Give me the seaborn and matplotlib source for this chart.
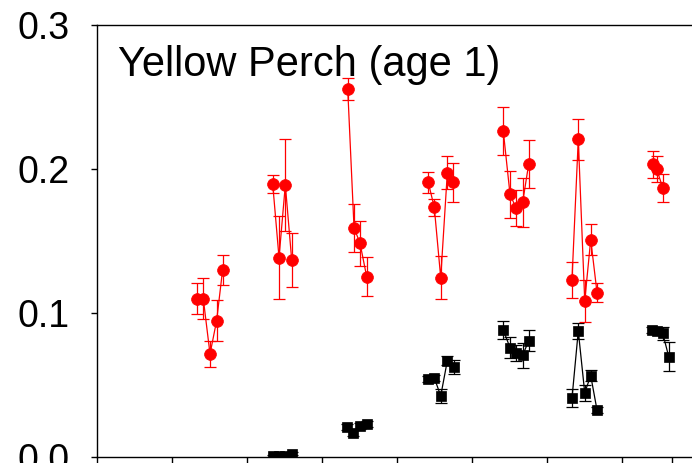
import matplotlib
matplotlib.use("Agg")
import matplotlib.pyplot as plt
import seaborn as sns
import pandas as pd
import numpy as np

# ---- data (x in axis units: 1 unit = one x tick interval) ----
red_group = [1]*5 + [2]*4 + [3]*4 + [4]*5 + [5]*5 + [6]*5 + [7]*3
red_x = [1.328, 1.417, 1.507, 1.595, 1.675,
         2.343, 2.427, 2.511, 2.596,
         3.343, 3.427, 3.507, 3.596,
         4.417, 4.497, 4.583, 4.671, 4.751,
         5.417, 5.507, 5.587, 5.676, 5.756,
         6.333, 6.417, 6.503, 6.583, 6.667,
         7.409, 7.463, 7.543]
red_y = [0.110, 0.110, 0.0715, 0.0947, 0.130,
         0.1894, 0.1384, 0.189, 0.1368,
         0.2556, 0.1592, 0.1484, 0.1252,
         0.1907, 0.1734, 0.1245, 0.1974, 0.1907,
         0.2264, 0.1824, 0.1729, 0.177, 0.2035,
         0.1229, 0.2206, 0.1083, 0.151, 0.1141,
         0.2033, 0.1998, 0.187]
red_err = [0.0105, 0.014, 0.0093, 0.014, 0.0105,
           0.0064, 0.029, 0.032, 0.019,
           0.0074, 0.0165, 0.0155, 0.0137,
           0.0075, 0.006, 0.015, 0.0113, 0.0134,
           0.0167, 0.0163, 0.0125, 0.017, 0.0165,
           0.0125, 0.0143, 0.0146, 0.0105, 0.0064,
           0.0095, 0.009, 0.0098]

black_group = [2]*4 + [3]*4 + [4]*5 + [5]*5 + [6]*5 + [7]*4
black_x = [2.343, 2.427, 2.511, 2.596,
           3.329, 3.417, 3.507, 3.596,
           4.417, 4.497, 4.583, 4.671, 4.756,
           5.417, 5.507, 5.587, 5.676, 5.756,
           6.333, 6.417, 6.503, 6.583, 6.667,
           7.396, 7.463, 7.543, 7.623]
black_y = [0.0007, 0.0007, 0.0009, 0.0024,
           0.0210, 0.0169, 0.0217, 0.0229,
           0.0540, 0.0550, 0.0424, 0.0669, 0.0627,
           0.0882, 0.0759, 0.0720, 0.0708, 0.0806,
           0.0407, 0.0875, 0.0447, 0.0565, 0.0326,
           0.0882, 0.0877, 0.0859, 0.0697]
black_err = [0.0008, 0.0008, 0.0008, 0.0010,
             0.0020, 0.0020, 0.0020, 0.0020,
             0.0020, 0.0020, 0.0047, 0.0030, 0.0050,
             0.0063, 0.0072, 0.0055, 0.0087, 0.0073,
             0.0063, 0.0058, 0.0055, 0.0040, 0.0020,
             0.0020, 0.0020, 0.0044, 0.0102]

y_ticks = [0.0, 0.1, 0.2, 0.3]
y_tick_labels = ["0.0", "0.1", "0.2", "0.3"]
x_ticks = [0, 1, 2, 3, 4, 5, 6, 7, 7.667]
title_text = "Yellow Perch (age 1)"

red_df = pd.DataFrame({"x": red_x, "y": red_y, "group": red_group})
black_df = pd.DataFrame({"x": black_x, "y": black_y, "group": black_group})

sns.set_style("ticks")
plt.rcParams["font.family"] = ["Liberation Sans", "DejaVu Sans"]

fig = plt.figure(figsize=(6.92, 4.63), dpi=100)
W, H = 692, 463
px_per_unit = 75.0
x_max = 8.1
ax = fig.add_axes([97 / W, 6 / H, x_max * px_per_unit / W, 432 / H])

# black series
ax.errorbar(black_x, black_y, yerr=black_err, fmt="none", ecolor="black",
            elinewidth=0.9, capsize=4.5, capthick=0.9, zorder=2)
sns.lineplot(data=black_df, x="x", y="y", units="group", estimator=None,
             color="black", marker="s", markersize=7.5, markeredgecolor="black",
             markeredgewidth=0.5, linewidth=0.9, ax=ax, zorder=3, legend=False)

# red series
ax.errorbar(red_x, red_y, yerr=red_err, fmt="none", ecolor="#ff0000",
            elinewidth=0.9, capsize=4.5, capthick=0.9, zorder=4)
sns.lineplot(data=red_df, x="x", y="y", units="group", estimator=None,
             color="#ff0000", marker="o", markersize=8.5, markeredgecolor="#ff0000",
             markeredgewidth=0.5, linewidth=0.9, ax=ax, zorder=5, legend=False)

ax.set_xlim(0, x_max)
ax.set_ylim(0, 0.3)
ax.set_yticks(y_ticks)
ax.set_yticklabels(y_tick_labels)
ax.set_xticks(x_ticks)
ax.set_xticklabels([""] * len(x_ticks))
ax.set_xlabel("")
ax.set_ylabel("")
ax.tick_params(axis="y", direction="out", length=4.5, width=1.0, pad=15.0,
               labelsize=27, colors="black")
ax.tick_params(axis="x", direction="out", length=5, width=1.0, colors="black")
for s in ["left", "top", "bottom", "right"]:
    ax.spines[s].set_visible(True)
    ax.spines[s].set_linewidth(1.0)
    ax.spines[s].set_color("black")

ax.text(118 / W, (463 - 65) / H, title_text, transform=fig.transFigure,
        fontsize=30, ha="left", va="center", color="black")

fig.savefig("out.png", dpi=100)
